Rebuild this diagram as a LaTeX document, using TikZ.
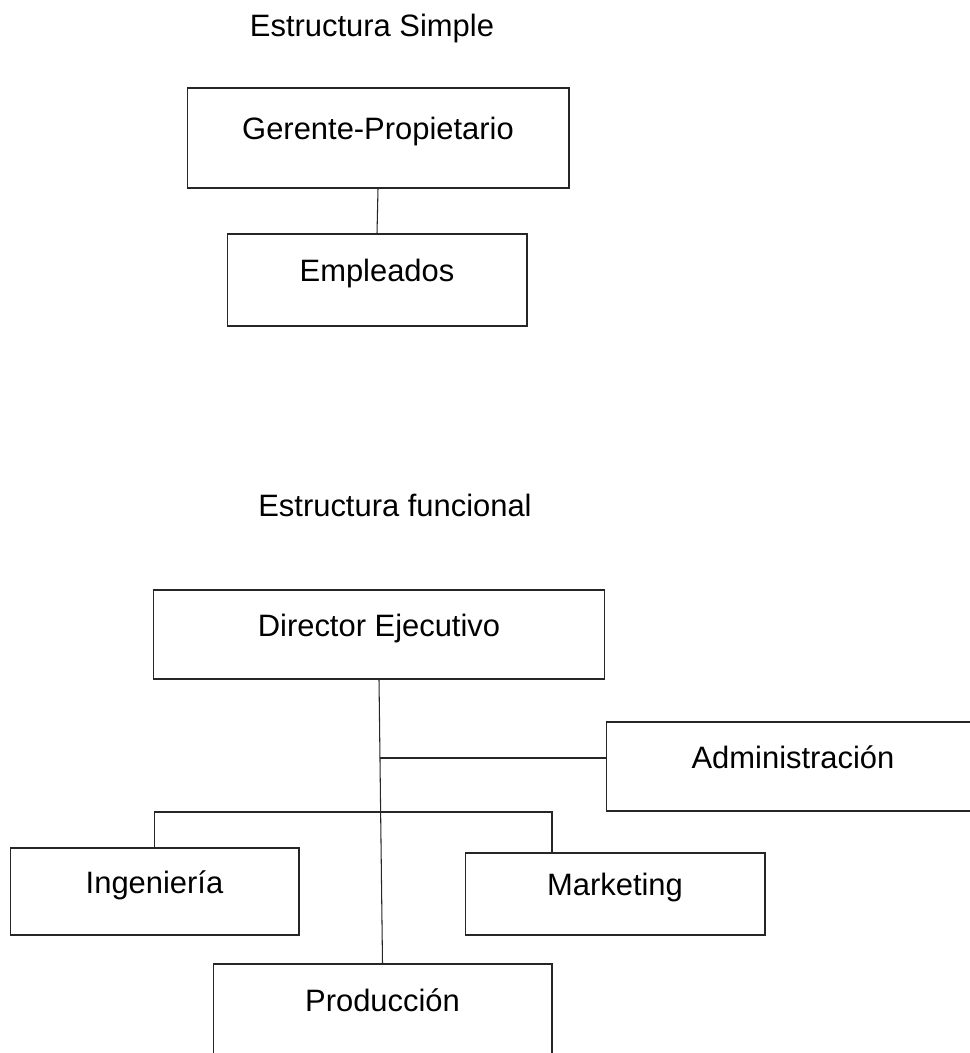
\documentclass[tikz,border=0pt]{standalone}
\usepackage{fontspec}
\setmainfont{Liberation Sans}
\usetikzlibrary{positioning}

\begin{document}
\begin{tikzpicture}[x=0.02cm, y=-0.02cm,
      caja/.style={rectangle, draw=black!85, line width=0.6pt, inner sep=0pt, text height=0.75em, text depth=0.53em, font=\fontsize{17.6}{21}\selectfont},
      titulo/.style={anchor=base, inner sep=0pt, font=\fontsize{17.6}{21}\selectfont},
      linea/.style={draw=black!85, line width=0.6pt}]

\useasboundingbox (0,0) rectangle (969,1053);

% estructura simple
\node[titulo] (t1) at (372,37) {Estructura Simple};
\node[caja, minimum width=7.64cm, minimum height=2.0cm] (gp) at (378,138) {Gerente-Propietario};
\node[caja, minimum width=6.0cm, minimum height=1.84cm] (emp) at (377,280) {Empleados};
\draw[linea] (gp.south) -- (emp.north);

% estructura funcional
\node[titulo] (t2) at (395,516) {Estructura funcional};
\node[caja, minimum width=9.04cm, minimum height=1.78cm] (dir) at (379,634.5) {Director Ejecutivo};
\node[caja, minimum width=7.48cm, minimum height=1.78cm] (adm) at (793,766.5) {Administración};
\node[caja, minimum width=5.78cm, minimum height=1.74cm] (ing) at (154.5,891.5) {Ingeniería};
\node[caja, minimum width=6.0cm, minimum height=1.64cm] (mkt) at (615,894) {Marketing};
\node[caja, minimum width=6.78cm, minimum height=1.84cm] (prod) at (382.5,1010) {Producción};

\coordinate (ja) at (380,758);
\coordinate (jb) at (552,812);
\draw[linea] (dir.south) -- (prod.north);
\draw[linea] (ja) -- (adm.west |- ja);
\draw[linea] (ing.north) |- (jb) -- (jb |- mkt.north);

\end{tikzpicture}
\end{document}
